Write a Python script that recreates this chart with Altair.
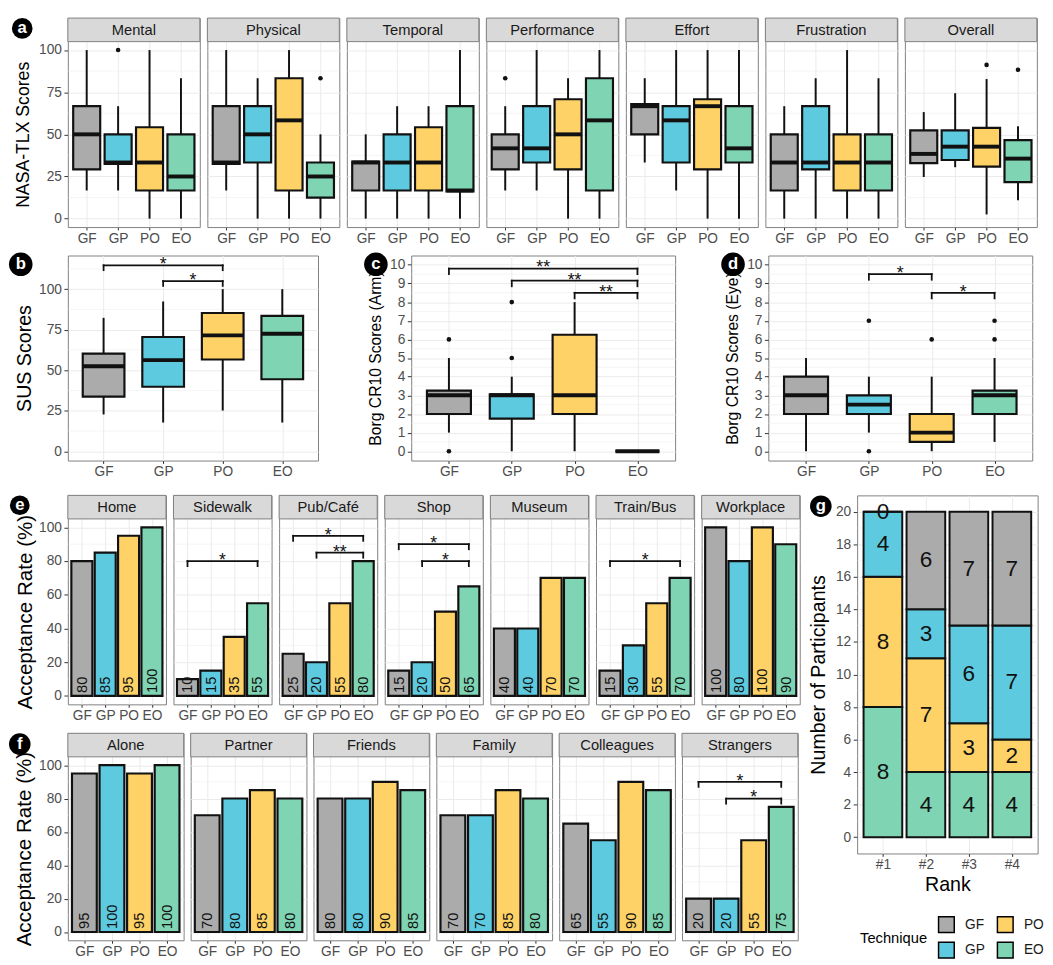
import json
import altair as alt
import pandas as pd

FONT = "Liberation Sans"
TECH = ["GF", "GP", "PO", "EO"]
FILLS = {"GF": "#ABABAB", "GP": "#5ECADF", "PO": "#FED266", "EO": "#7ED4B3"}
GRID = "#EBEBEB"
BORDER = "#7F7F7F"
INK = "#111111"
TXT = "#4D4D4D"
STRIP_H = 24

# ---------------- a: NASA-TLX (box statistics) ----------------
TLX_DIMS = ["Mental", "Physical", "Temporal", "Performance", "Effort", "Frustration", "Overall"]
TLX_LO = [[16.7, 16.7, 0, 0], [16.7, 0, 0, 0], [0, 0, 0, 0], [16.7, 16.7, 0, 0],
          [33.3, 16.7, 0, 0], [0, 0, 0, 0], [24.7, 30.5, 2.5, 10.9]]
TLX_Q1 = [[29.2, 32.5, 16.7, 16.7], [32.5, 33.3, 16.7, 12.5], [16.7, 16.7, 16.7, 16.2],
          [29.2, 33.3, 29.2, 16.7], [50, 33.3, 29.2, 33.3], [16.7, 29.2, 16.7, 16.7],
          [32.9, 34.8, 30.9, 21.7]]
TLX_MED = [[50, 33.3, 33.3, 25], [33.3, 50, 58.3, 25], [33.3, 33.3, 33.3, 16.7],
           [41.7, 41.7, 50, 58.3], [66.7, 58.3, 66.7, 41.7], [33.3, 33.3, 33.3, 33.3],
           [38.4, 42.7, 42.7, 35.6]]
TLX_Q3 = [[66.7, 50, 54.2, 50], [66.7, 66.7, 83.3, 33.3], [33.8, 50, 54.2, 66.7],
          [50, 66.7, 70.8, 83.3], [68.0, 66.7, 70.8, 66.7], [50, 66.7, 50, 50],
          [52.4, 52.4, 53.8, 46.6]]
TLX_HI = [[100, 66.7, 100, 83.3], [100, 83.3, 100, 50], [50, 66.7, 66.7, 100],
          [66.7, 100, 83.3, 100], [83.3, 100, 100, 100], [66.7, 83.3, 100, 83.3],
          [63.2, 74.4, 82.8, 54.8]]
TLX_OUT = [("Mental", "GP", 100), ("Physical", "EO", 83.3), ("Performance", "GF", 83.3),
           ("Overall", "PO", 91.2), ("Overall", "EO", 88.3)]

# ---------------- b: SUS ----------------
SUS_LO = [22.7, 17.7, 25.1, 17.7]
SUS_Q1 = [33.7, 39.8, 56.6, 44.4]
SUS_MED = [52.4, 56.2, 71.5, 72.5]
SUS_Q3 = [60.2, 70.5, 85.3, 83.5]
SUS_HI = [82.3, 92.4, 100, 100]
SUS_BR = [("GF", "PO", 114.7, 111.7, "*"), ("GP", "PO", 105, 102, "*")]

# ---------------- c: Borg CR10 (Arm) ----------------
ARM_LO = [1, 0, 0, 0]
ARM_Q1 = [2, 1.75, 2, 0]
ARM_MED = [3, 3, 3, 0]
ARM_Q3 = [3.25, 3.05, 6.25, 0]
ARM_HI = [5, 4, 8, 0]
ARM_OUT = [("GF", 6), ("GF", 0), ("GP", 8), ("GP", 5)]
ARM_BR = [("GF", "EO", 9.8, 9.5, "**"), ("GP", "EO", 9.15, 8.85, "**"), ("PO", "EO", 8.5, 8.2, "**")]

# ---------------- d: Borg CR10 (Eye) ----------------
EYE_LO = [0, 1, 0, 0.5]
EYE_Q1 = [2, 2, 0.5, 2]
EYE_MED = [3, 2.5, 1, 3]
EYE_Q3 = [4, 3, 2, 3.25]
EYE_HI = [5, 4, 4, 5]
EYE_OUT = [("GP", 7), ("GP", 0), ("PO", 6), ("EO", 7), ("EO", 6)]
EYE_BR = [("GP", "PO", 9.5, 9.2, "*"), ("PO", "EO", 8.5, 8.2, "*")]

# ---------------- e: acceptance by place ----------------
PLACES = ["Home", "Sidewalk", "Pub/Café", "Shop", "Museum", "Train/Bus", "Workplace"]
PLACE_RATE = [[80, 85, 95, 100], [10, 15, 35, 55], [25, 20, 55, 80], [15, 20, 50, 65],
              [40, 40, 70, 70], [15, 30, 55, 70], [100, 80, 100, 90]]
PLACE_BR = {"Sidewalk": [("GF", "EO", 80, 77, "*")],
            "Pub/Café": [("GF", "EO", 95, 92, "*"), ("GP", "EO", 85, 82, "**")],
            "Shop": [("GF", "EO", 90, 87, "*"), ("GP", "EO", 80, 77, "*")],
            "Train/Bus": [("GF", "EO", 80, 77, "*")]}

# ---------------- f: acceptance by audience ----------------
AUDIENCE = ["Alone", "Partner", "Friends", "Family", "Colleagues", "Strangers"]
AUD_RATE = [[95, 100, 95, 100], [70, 80, 85, 80], [80, 80, 90, 85], [70, 70, 85, 80],
            [65, 55, 90, 85], [20, 20, 55, 75]]
AUD_BR = {"Strangers": [("GF", "EO", 90, 87, "*"), ("GP", "EO", 80, 77, "*")]}

# ---------------- g: ranking ----------------
RANKS = ["#1", "#2", "#3", "#4"]
RANK_COUNTS = {"EO": [8, 4, 4, 4], "PO": [8, 7, 3, 2], "GP": [4, 3, 6, 7], "GF": [0, 6, 7, 7]}
STACK_ORDER = ["EO", "PO", "GP", "GF"]

COLOR = alt.Scale(domain=TECH, range=[FILLS[t] for t in TECH])
TECH_EXPR = json.dumps(TECH) + "[datum.value - 1]"
RANK_EXPR = json.dumps(RANKS) + "[datum.value - 1]"
XPOS = [1, 2, 3, 4]
TICK = 3
LPAD = 1.5


def x_axis(expr, title=None, tfs=20, tpad=2):
    kw = dict(values=XPOS, labelExpr=expr, grid=True, gridColor=GRID, gridWidth=1,
              domain=False, ticks=True, tickColor="#333333", tickSize=TICK, tickWidth=1,
              labelFontSize=14, labelColor=TXT, labelPadding=LPAD, labelOverlap=False,
              labelFlush=False)
    if title:
        kw.update(title=title, titleFontSize=tfs, titleFontWeight="normal",
                  titleColor="black", titlePadding=tpad)
    else:
        kw.update(title=None)
    return alt.Axis(**kw)


def y_axis(values, title=None, tfs=18, tpad=4, ext=31, title_y=None):
    if title is None:
        return alt.Axis(values=values, title=None, labels=False, ticks=False, domain=False,
                        grid=True, gridColor=GRID, gridWidth=1)
    kw = dict(values=values, title=title, grid=True, gridColor=GRID, gridWidth=1,
              domain=False, ticks=True, tickColor="#333333", tickSize=4, tickWidth=1,
              labelFontSize=14, labelColor=TXT, labelPadding=2.5, labelOverlap=False,
              labelFlush=False, titleFontSize=tfs, titleFontWeight="normal",
              titleColor="black", titlePadding=tpad, minExtent=ext, maxExtent=ext)
    if title_y is not None:
        kw["titleY"] = title_y
    return alt.Axis(**kw)


def with_strip(dom, h):
    """extend the y domain so that a strip of STRIP_H pixels fits above the data area"""
    d0, d1 = dom
    return [d0, d1 + STRIP_H * (d1 - d0) / h]


def minor_layer(vals, Y):
    return alt.Chart(pd.DataFrame({"v": vals})).mark_rule(color=GRID, strokeWidth=0.5).encode(
        y=Y("v:Q"))


def strip_layers(name, width):
    d = alt.Chart(pd.DataFrame({"t": [name]}))
    rect = d.mark_rect(fill="#D9D9D9", stroke=BORDER, strokeWidth=1).encode(
        x=alt.value(0), x2=alt.value(width), y=alt.value(0), y2=alt.value(STRIP_H))
    txt = d.mark_text(fontSize=15, color="#1A1A1A").encode(
        x=alt.value(width / 2), y=alt.value(STRIP_H / 2), text="t:N")
    return [rect, txt]


def tag_layers(letter, cx, cy, r):
    d = alt.Chart(pd.DataFrame({"t": [letter]}))
    c = d.mark_circle(color="black", opacity=1, size=4 * r * r).encode(
        x=alt.value(cx), y=alt.value(cy))
    t = d.mark_text(fontSize=17, fontWeight="bold", color="white").encode(
        x=alt.value(cx), y=alt.value(cy), text="t:N")
    return [c, t]


def bracket_layers(brs, X, Y, fs=18):
    rows = []
    for a, b, y, yt, lab in brs:
        x1, x2 = TECH.index(a) + 1, TECH.index(b) + 1
        rows.append({"x1": x1, "x2": x2, "xm": (x1 + x2) / 2, "y": y, "yt": yt, "lab": lab})
    d = alt.Chart(pd.DataFrame(rows))
    w = 1.8
    return [
        d.mark_rule(color=INK, strokeWidth=w, strokeCap="square").encode(
            x=X("x1:Q"), x2="x2:Q", y=Y("y:Q")),
        d.mark_rule(color=INK, strokeWidth=w, strokeCap="square").encode(
            x=X("x1:Q"), y=Y("yt:Q"), y2="y:Q"),
        d.mark_rule(color=INK, strokeWidth=w, strokeCap="square").encode(
            x=X("x2:Q"), y=Y("yt:Q"), y2="y:Q"),
        d.mark_text(color=INK, fontSize=fs, baseline="alphabetic", dy=5).encode(
            x=X("xm:Q"), y=Y("y:Q"), text="lab:N"),
    ]


def box_panel(lo, q1, med, q3, hi, outs, brs, width, height, ydom, yticks, yminor, hw,
              ytitle=None, tfs=18, tpad=4, ext=31, strip=None, tag=None):
    total_h = height + (STRIP_H if strip else 0)
    dom = with_strip(ydom, height) if strip else ydom
    xs = alt.Scale(domain=[0.4, 4.6], nice=False, zero=False)
    ys = alt.Scale(domain=dom, nice=False, zero=False)
    xa = x_axis(TECH_EXPR)
    ya = y_axis(yticks, ytitle, tfs, tpad, ext,
                title_y=(STRIP_H + height / 2) if strip else None)

    def X(f):
        return alt.X(f, scale=xs, axis=xa)

    def Y(f):
        return alt.Y(f, scale=ys, axis=ya)

    bdf = pd.DataFrame({"tech": TECH, "pos": XPOS, "lo": lo, "q1": q1, "med": med,
                        "q3": q3, "hi": hi})
    bdf["xl"] = bdf["pos"] - hw
    bdf["xr"] = bdf["pos"] + hw
    base = alt.Chart(bdf)
    layers = [minor_layer(yminor, Y)]
    layers.append(base.mark_rule(color=INK, strokeWidth=2).encode(
        x=X("pos:Q"), y=Y("lo:Q"), y2="hi:Q"))
    layers.append(base.mark_rect(stroke=INK, strokeWidth=2.2).encode(
        x=X("xl:Q"), x2="xr:Q", y=Y("q1:Q"), y2="q3:Q",
        color=alt.Color("tech:N", scale=COLOR, legend=None)))
    layers.append(base.mark_rule(color=INK, strokeWidth=4).encode(
        x=X("xl:Q"), x2="xr:Q", y=Y("med:Q")))
    if outs:
        odf = pd.DataFrame(outs, columns=["tech", "v"])
        odf["pos"] = [TECH.index(t) + 1 for t in odf["tech"]]
        layers.append(alt.Chart(odf).mark_circle(color=INK, opacity=1, size=22).encode(
            x=X("pos:Q"), y=Y("v:Q")))
    if brs:
        layers += bracket_layers(brs, X, Y)
    if strip:
        layers += strip_layers(strip, width)
    if tag:
        layers += tag_layers(*tag)
    return alt.layer(*layers).properties(width=width, height=total_h)


def bar_panel(vals, brs, name, width, height, ytitle=None, tfs=21, tpad=2, tag=None):
    xs = alt.Scale(domain=[0.4, 4.6], nice=False, zero=False)
    ys = alt.Scale(domain=with_strip([-5, 105], height), nice=False, zero=False)
    xa = x_axis(TECH_EXPR)
    ya = y_axis([0, 20, 40, 60, 80, 100], ytitle, tfs, tpad, 31,
                title_y=STRIP_H + height / 2)

    def X(f):
        return alt.X(f, scale=xs, axis=xa)

    def Y(f):
        return alt.Y(f, scale=ys, axis=ya)

    df = pd.DataFrame({"tech": TECH, "pos": XPOS, "v": vals})
    df["xl"] = df["pos"] - 0.45
    df["xr"] = df["pos"] + 0.45
    df["z"] = 0
    base = alt.Chart(df)
    layers = [minor_layer([10, 30, 50, 70, 90], Y)]
    layers.append(base.mark_rect(stroke=INK, strokeWidth=2.2).encode(
        x=X("xl:Q"), x2="xr:Q", y=Y("z:Q"), y2="v:Q",
        color=alt.Color("tech:N", scale=COLOR, legend=None)))
    layers.append(base.mark_text(angle=270, align="left", baseline="middle", dx=3,
                                 fontSize=15, color=INK).encode(
        x=X("pos:Q"), y=Y("z:Q"), text="v:Q"))
    if brs:
        layers += bracket_layers(brs, X, Y)
    layers += strip_layers(name, width)
    if tag:
        layers += tag_layers(*tag)
    return alt.layer(*layers).properties(width=width, height=height + STRIP_H)


def rank_panel(width, height, tag):
    rows = []
    for t in STACK_ORDER:
        for i, n in enumerate(RANK_COUNTS[t]):
            rows.append({"tech": t, "rpos": i + 1, "n": n, "ord": STACK_ORDER.index(t)})
    df = pd.DataFrame(rows)
    df["xl"] = df["rpos"] - 0.45
    df["xr"] = df["rpos"] + 0.45
    xs = alt.Scale(domain=[0.4, 4.6], nice=False, zero=False)
    ys = alt.Scale(domain=[-1, 21], nice=False, zero=False)
    xa = x_axis(RANK_EXPR, title="Rank", tfs=20, tpad=3)
    ya = y_axis(list(range(0, 21, 2)), "Number of Participants", 20, 6.5, 23)

    def X(f):
        return alt.X(f, scale=xs, axis=xa)

    def Y(f):
        return alt.Y(f, scale=ys, axis=ya)

    base = alt.Chart(df).transform_stack(
        stack="n", as_=["y0", "y1"], groupby=["rpos"],
        sort=[alt.SortField("ord", order="ascending")]
    ).transform_calculate(mid="(datum.y0 + datum.y1) / 2")
    legend = alt.Legend(title="Technique", orient="none", legendX=3, legendY=428.5, columns=2,
                        titleOrient="left", titleAnchor="middle", titleBaseline="middle",
                        titleFontSize=15, titleFontWeight="normal", titleColor="black",
                        titlePadding=10, labelFontSize=14, labelColor="#1A1A1A",
                        symbolType="square", symbolSize=256, symbolStrokeColor="black",
                        symbolStrokeWidth=1.5, symbolOpacity=1, rowPadding=4,
                        columnPadding=9, labelOffset=10)
    layers = [minor_layer(list(range(1, 20, 2)), Y)]
    layers.append(base.mark_rect(stroke=INK, strokeWidth=2).encode(
        x=X("xl:Q"), x2="xr:Q", y=Y("y0:Q"), y2="y1:Q",
        color=alt.Color("tech:N", scale=COLOR, legend=legend)))
    layers.append(base.mark_text(fontSize=23, color=INK).encode(
        x=X("rpos:Q"), y=Y("mid:Q"), text="n:Q"))
    layers += tag_layers(*tag)
    return alt.layer(*layers).properties(width=width, height=height)


def ind(c):
    return c.resolve_scale(color="independent")


# ---- row a
a_panels = []
for k, dim in enumerate(TLX_DIMS):
    outs = [(t, v) for d, t, v in TLX_OUT if d == dim]
    first = k == 0
    a_panels.append(box_panel(
        TLX_LO[k], TLX_Q1[k], TLX_MED[k], TLX_Q3[k], TLX_HI[k], outs, None,
        134.5, 189, [-5, 105], [0, 25, 50, 75, 100], [12.5, 37.5, 62.5, 87.5], 0.43,
        ytitle="NASA-TLX Scores" if first else None, tfs=18, tpad=5, ext=31,
        strip=dim, tag=("a", -46.5, 10.5, 10.5) if first else None))
row_a = ind(alt.hconcat(*a_panels, spacing=5.2))

# ---- row b, c, d
pb = box_panel(SUS_LO, SUS_Q1, SUS_MED, SUS_Q3, SUS_HI, None, SUS_BR, 255, 209,
               [-5.75, 120.75], [0, 25, 50, 75, 100], [12.5, 37.5, 62.5, 87.5, 112.5], 0.35,
               ytitle="SUS Scores", tfs=20, tpad=3.5, ext=31, tag=("b", -48, 9, 12))
pc = box_panel(ARM_LO, ARM_Q1, ARM_MED, ARM_Q3, ARM_HI, ARM_OUT, ARM_BR, 269, 209,
               [-0.5, 10.5], list(range(11)), [i + 0.5 for i in range(10)], 0.35,
               ytitle="Borg CR10 Scores (Arm)", tfs=16, tpad=5, ext=23, tag=("c", -36, 9, 12))
pdd = box_panel(EYE_LO, EYE_Q1, EYE_MED, EYE_Q3, EYE_HI, EYE_OUT, EYE_BR, 269, 209,
                [-0.5, 10.5], list(range(11)), [i + 0.5 for i in range(10)], 0.35,
                ytitle="Borg CR10 Scores (Eye)", tfs=16, tpad=5, ext=23, tag=("d", -36, 9, 12))
row_b = ind(alt.hconcat(pb, pc, pdd, spacing=45))

# ---- rows e, f and panel g
e_panels = [bar_panel(PLACE_RATE[k], PLACE_BR.get(p), p, 100, 189,
                      ytitle="Acceptance Rate (%)" if k == 0 else None, tfs=21, tpad=2.5,
                      tag=("e", -49, 10, 10) if k == 0 else None)
            for k, p in enumerate(PLACES)]
row_e = ind(alt.hconcat(*e_panels, spacing=5.67))
f_panels = [bar_panel(AUD_RATE[k], AUD_BR.get(p), p, 118, 187,
                      ytitle="Acceptance Rate (%)" if k == 0 else None, tfs=21, tpad=3,
                      tag=("f", -49, 11, 11) if k == 0 else None)
            for k, p in enumerate(AUDIENCE)]
row_f = ind(alt.hconcat(*f_panels, spacing=5.2))
ef = ind(alt.vconcat(row_e, row_f, spacing=9.5))
pg = rank_panel(184, 365, ("g", -37, 11, 11))
efg = ind(alt.hconcat(ef, pg, spacing=6.5))

top_rows = ind(alt.vconcat(row_a, row_b, spacing=6))
chart = ind(alt.vconcat(top_rows, efg, spacing=15.5)).properties(padding=0).configure(
    font=FONT).configure_view(stroke=BORDER, strokeWidth=1)

chart.save("out.html", embed_options={"renderer": "svg", "actions": False})
